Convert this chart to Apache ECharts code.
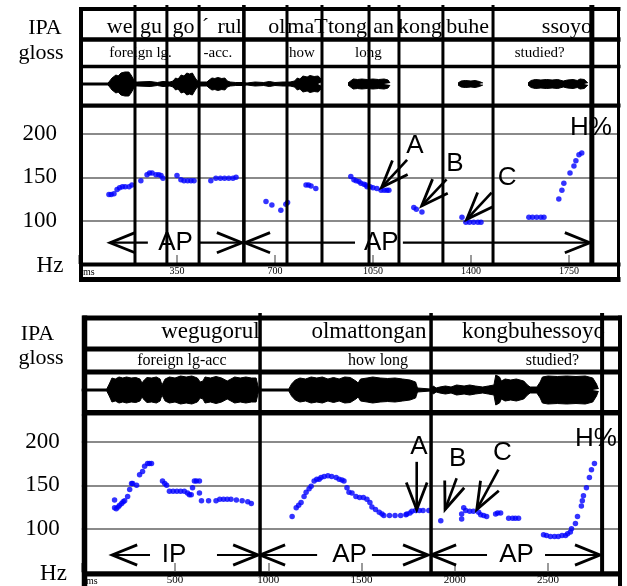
<!DOCTYPE html>
<html><head><meta charset="utf-8">
<script src="https://cdn.jsdelivr.net/npm/echarts@6/dist/echarts.min.js"></script>
<style>html,body{margin:0;padding:0;background:#fff}#c{width:627px;height:586px}</style>
</head><body><div id="c"></div>
<script>
// ================= DATA =================
// Top panel (time in ms, pitch in Hz)
const topXMax = 1929;
const topTickStep = 350;
const topBoundaryMs = [200, 314, 429, 589, 743, 868, 1036, 1143, 1300, 1479, 1832];
const topWords = ['we', 'gu', 'go', '´', 'rul', 'ol', 'maT', 'tong', 'an', 'kong', 'buhe', 'ssoyo'];
const topWordMs = [145, 257, 373, 452, 538, 707, 816, 959, 1088, 1218, 1388, 1743];
const topGloss = ['foreign lg.', '-acc.', 'how', 'long', 'studied?'];
const topGlossMs = [220, 496, 796, 1034, 1646];
const topPitch = [
  [107,130],[115,130],[125,131],[136,136],[145,138],[155,139],[165,139],[179,139],[189,141],[221,146],
  [243,153],[252,155],[261,155],[275,153],[285,153],[293,152],[300,149],[350,152],[364,147],[375,146],
  [388,146],[400,146],[411,146],[471,146],[489,149],[505,149],[520,149],[535,149],[550,149],[561,150],
  [668,122],[689,118],[721,112],[739,119],[745,121],[811,141],[820,141],[829,140],[846,137],
  [971,151],[982,147],[990,146],[1000,145],[1007,143],[1018,142],[1025,141],[1029,139],[1040,139],
  [1050,138],[1064,137],[1079,135],[1090,135],[1100,135],[1107,135],[1196,115],[1205,113],[1225,110],
  [1368,104],[1382,98],[1395,98],[1410,98],[1425,98],[1436,98],
  [1607,104],[1620,104],[1635,104],[1650,104],[1661,104],
  [1714,125],[1725,135],[1732,143],[1754,155],[1768,163],[1775,169],[1786,176],[1796,178]
];
// waveform amplitude envelopes (ms, amplitude), one list per voiced stretch
const topWave = [
  [[0,1],[104,1],[111,3],[118,6],[125,5],[132,9],[140,8],[150,11],[157,10],[164,12],[171,11],[178,12],
   [186,9],[193,7],[200,2],[210,2],[254,2.5],[280,1.5],[300,2.5],[325,2],[336,3],[345,6],[354,5],[365,9],
   [375,8],[385,11],[395,10],[405,11],[413,7],[420,4],[429,2],[457,2],[465,4],[475,6],[485,5.5],[496,6.5],
   [510,5.5],[521,6],[530,3],[540,2],[560,1.5],[586,1.5],[600,1],[629,2],[660,1.5],[680,2.5],[700,1.5],
   [729,2],[754,2],[770,3],[780,6],[789,5],[800,8],[815,7],[825,8.5],[840,7.5],[854,8],[862,6],[868,2]],
  [[961,1],[970,3],[980,5],[995,4.5],[1010,5],[1030,4.5],[1050,5],[1070,4.5],[1090,5],[1104,4],[1111,1]],
  [[1354,1],[1365,3],[1380,3.5],[1400,3],[1415,3.5],[1430,2.5],[1443,1]],
  [[1604,1],[1615,3.5],[1630,4.5],[1650,4],[1670,4.5],[1690,4],[1710,4.5],[1730,3],[1745,4],[1765,4.5],
   [1780,3.5],[1790,5],[1805,4.5],[1818,1]]
];
const topPhraseLabels = ['AP', 'AP'];
const topPhraseStart = [111, 593];
const topPhraseShaftEnd = [246, 986];
const topPhraseLabelMs = [345, 1080];
const topPhraseShaftStart = [432, 1157];
const topPhraseEnd = [582, 1825];
const topAnnoLabels = ['A', 'B', 'C', 'H%'];
const topAnnoAt = [[1200,186],[1343,165],[1529,149],[1829,207]];
const topArrowFrom = [[1172,170],[1313,147.6],[1474,132.2]];
const topArrowTo = [[1081,138.4],[1224,116.9],[1385,101.5]];

// Bottom panel
const botXMax = 2886;
const botTickStep = 500;
const botBoundaryMs = [956, 1873, 2790];
const botWords = ['wegugorul', 'olmattongan', 'kongbuhessoyo'];
const botWordMs = [690, 1540, 2422];
const botGloss = ['foreign lg-acc', 'how long', 'studied?'];
const botGlossMs = [537, 1589, 2524];
const botPitch = [
  [176,133],[176,124],[185,123],[195,125],[203,127],[214,129],[222,131],[230,132],[246,137],[257,145],
  [267,152],[273,152],[294,150],[310,162],[326,166],[337,172],[353,175],[363,175],[374,175],
  [433,155],[445,152],[455,150],[470,143],[490,143],[510,143],[530,143],[550,143],[567,141],[577,139],
  [587,139],[594,147],[604,155],[615,155],[631,155],[631,141],[642,132],[680,132],[720,132],[740,134],
  [760,134],[780,134],[800,134],[829,133],[860,132],[890,131],[909,129],
  [1128,114],[1150,124],[1163,127],[1176,130],[1192,137],[1203,142],[1219,146],[1230,149],[1246,155],
  [1260,157],[1273,157],[1283,159],[1300,160],[1320,161],[1340,160],[1364,159],[1380,157],[1395,156],
  [1406,155],[1422,147],[1433,142],[1449,141],[1470,137],[1490,136],[1510,136],[1529,134],[1545,130],
  [1556,125],[1575,122],[1595,119],[1610,117],[1620,115],[1650,115],[1680,115],[1710,115],[1738,116],
  [1743,117],[1760,118],[1770,120],[1790,121],[1810,121],[1830,121],[1861,121],
  [1925,109],[2037,111],[2037,117],[2048,124],[2059,121],[2080,120],[2100,120],[2128,119],[2139,116],
  [2155,115],[2171,114],[2219,117],[2230,118],[2246,118],[2289,112],[2310,112],[2325,112],[2342,112],
  [2476,93],[2492,92],[2513,91],[2535,91],[2555,91],[2575,92],[2594,92],[2605,94],[2620,96],[2626,100],
  [2647,106],[2658,114],[2679,126],[2684,132],[2690,138],[2706,147],[2722,159],[2733,168],[2749,175]
];
const botWave = [
  [[0,1],[134,1],[145,5],[155,9],[162,12],[180,11],[200,13],[220,12],[240,13],[265,12],[290,12.5],[312,11],
   [323,7],[335,10],[350,12.5],[375,12],[400,13],[420,11],[430,5],[440,7],[447,11],[470,13],[500,12],
   [530,14],[560,13],[590,14],[620,12],[635,8],[650,9],[661,13],[690,12],[720,13.5],[750,12],[780,9],
   [790,11],[820,13],[850,12],[880,13],[910,12],[935,12],[946,3],[960,1],[1110,1],[1125,6],[1145,10],
   [1170,12],[1200,11],[1230,13],[1260,12],[1290,13],[1320,11],[1350,12.5],[1380,11],[1410,13],[1440,12.5],
   [1470,9],[1482,7],[1495,11],[1530,12],[1560,13],[1600,12],[1640,11.5],[1680,12],[1720,11],[1760,10],
   [1790,8],[1800,2],[1870,1],[1885,4],[1900,2],[1920,3],[1950,4],[1980,3],[2010,5],[2050,4],[2080,5],
   [2110,4],[2150,3],[2180,4],[2210,5],[2220,15],[2240,13],[2250,9],[2270,11],[2300,10],[2330,11],
   [2370,9],[2390,5],[2404,3],[2440,3],[2458,8],[2470,13],[2500,14],[2550,13.5],[2600,14],[2650,13.5],
   [2700,14],[2740,12],[2760,6],[2770,1]]
];
const botPhraseLabels = ['IP', 'AP', 'AP'];
const botPhraseStart = [163, 956, 1873];
const botPhraseShaftEnd = [366, 1262, 2173];
const botPhraseLabelMs = [495, 1436, 2331];
const botPhraseShaftStart = [725, 1556, 2484];
const botPhraseEnd = [946, 1857, 2779];
const botAnnoLabels = ['A', 'B', 'C', 'H%'];
const botAnnoAt = [[1808,194],[2015,181],[2256,187],[2757,203]];
const botArrowFrom = [[1796,177],[2010,158],[2234,168]];
const botArrowTo = [[1796,122],[1948,122],[2118,122]];

const hzMin = 50, hzMax = 231, hzStep = 50;
const hzLabels = [100, 150, 200];

// ================= LAYOUT / STYLE =================
const SERIF = '"Liberation Serif", "Times New Roman", serif';
const SANS = '"Liberation Sans", Arial, sans-serif';
const BLUE = '#0000ff';
const GRID_GRAY = '#8a8a8a';

const chart = echarts.init(document.getElementById('c'), null, {renderer: 'canvas'});

function waveData(segs, sign) {
  const out = [];
  segs.forEach(seg => {
    seg.forEach(p => out.push([p[0], sign * p[1]]));
    out.push([seg[seg.length - 1][0] + 1, '-']);
  });
  return out;
}
function pitchAxes(max, step, gridIndex, fontSize, margin) {
  return {
    x: {type: 'value', gridIndex, min: 0, max, interval: step,
        axisLine: {show: false}, splitLine: {show: false},
        axisTick: {show: true, inside: true, length: 9, lineStyle: {color: '#9a9a9a', width: 2}},
        axisLabel: {show: true, margin, color: '#000', fontFamily: SERIF, fontSize,
          formatter: v => (v > 0 && v % step === 0) ? String(v) : ''}},
    y: {type: 'value', gridIndex, min: hzMin, max: hzMax, interval: hzStep,
        axisLine: {show: false}, axisTick: {show: false},
        splitLine: {show: true, lineStyle: {color: GRID_GRAY, width: 2}},
        axisLabel: {show: true, margin: 22, color: '#000', fontFamily: SERIF, fontSize: 23,
          formatter: v => hzLabels.indexOf(v) >= 0 ? String(v) : ''}}
  };
}
function waveAxes(max, gridIndex) {
  return {
    x: {type: 'value', gridIndex, min: 0, max, show: false},
    y: {type: 'value', gridIndex, min: -17, max: 17, show: false}
  };
}
const tp = pitchAxes(topXMax, topTickStep, 0, 10, 2);
const tw = waveAxes(topXMax, 1);
const bp = pitchAxes(botXMax, botTickStep, 2, 11, 3);
const bw = waveAxes(botXMax, 3);

function waveSeries(segs, idx) {
  return [1, -1].map(sign => ({
    type: 'line', xAxisIndex: idx, yAxisIndex: idx, data: waveData(segs, sign),
    symbol: 'none', showSymbol: false, connectNulls: false, silent: true,
    lineStyle: {color: '#000', width: 1}, areaStyle: {color: '#000', opacity: 1}, z: 3
  }));
}

chart.setOption({
  animation: false,
  backgroundColor: '#fff',
  grid: [
    {left: 79, top: 107, width: 540, height: 157},
    {left: 79, top: 67, width: 540, height: 34},
    {left: 81.75, top: 415, width: 538.25, height: 157.5},
    {left: 81.75, top: 373, width: 538.25, height: 34}
  ],
  xAxis: [tp.x, tw.x, bp.x, bw.x],
  yAxis: [tp.y, tw.y, bp.y, bw.y],
  series: [
    {type: 'scatter', xAxisIndex: 0, yAxisIndex: 0, data: topPitch, symbolSize: 5.5,
     itemStyle: {color: BLUE}, silent: true, z: 4},
    ...waveSeries(topWave, 1),
    {type: 'scatter', xAxisIndex: 2, yAxisIndex: 2, data: botPitch, symbolSize: 5.5,
     itemStyle: {color: BLUE}, silent: true, z: 4},
    ...waveSeries(botWave, 3)
  ]
});

// ================= OVERLAY (frames, texts, arrows) =================
const G = [];
function line(x1, y1, x2, y2, w, color) {
  G.push({type: 'line', z: 50, silent: true, shape: {x1, y1, x2, y2},
          style: {stroke: color || '#000', lineWidth: w, lineCap: 'butt'}});
}
function text(t, x, y, font, align) {
  G.push({type: 'text', z: 60, silent: true, x, y,
          style: {text: t, font, fill: '#000', align: align || 'center', verticalAlign: 'middle'}});
}
function poly(points, w) {
  G.push({type: 'polyline', z: 55, silent: true, shape: {points},
          style: {stroke: '#000', lineWidth: w, fill: null, lineJoin: 'miter'}});
}
function head(tip, ang, len, half, w) {
  const b1 = [tip[0] + len * Math.cos(ang + half), tip[1] + len * Math.sin(ang + half)];
  const b2 = [tip[0] + len * Math.cos(ang - half), tip[1] + len * Math.sin(ang - half)];
  poly([b1, tip, b2], w);
}
const X = (gi, ms) => chart.convertToPixel({xAxisIndex: gi}, ms);
const P = (gi, p) => chart.convertToPixel({gridIndex: gi}, p);

function panel(cfg) {
  const gi = cfg.gi;
  cfg.bounds.forEach((ms, i) => line(X(gi, ms), cfg.boundTop, X(gi, ms), cfg.boundBottom, cfg.boundW[i]));
  cfg.hLines.forEach(h => line(cfg.frameL - 2, h[0], cfg.frameR + 2, h[0], h[1]));
  line(cfg.frameL, cfg.frameTop, cfg.frameL, cfg.frameBottom, cfg.leftW);
  line(cfg.frameR, cfg.frameTop, cfg.frameR, cfg.frameBottom, cfg.rightW);
  cfg.words.forEach((w, i) => text(w, X(gi, cfg.wordMs[i]), cfg.wordY, cfg.wordFont));
  cfg.gloss.forEach((w, i) => text(w, X(gi, cfg.glossMs[i]), cfg.glossY, cfg.glossFont));
  text('IPA', cfg.lblX, cfg.ipaY, '22px ' + SERIF);
  text('gloss', cfg.glossLblX, cfg.glossLblY, '22px ' + SERIF);
  text('Hz', cfg.hzX, cfg.hzY, '23px ' + SERIF);
  text('ms', cfg.msX, cfg.msY, cfg.msFont, 'left');
  const y = cfg.phraseY, half = 22 * Math.PI / 180;
  cfg.pLabels.forEach((lab, i) => {
    const a = X(gi, cfg.pStart[i]), b = X(gi, cfg.pShaftEnd[i]);
    const c = X(gi, cfg.pShaftStart[i]), d = X(gi, cfg.pEnd[i]);
    line(a, y, b, y, 2.2); line(c, y, d, y, 2.2);
    head([a, y], 0, 27, half, 2.8);
    head([d, y], Math.PI, 27, half, 2.8);
    text(lab, X(gi, cfg.pLabelMs[i]), y, '26px ' + SANS);
  });
  cfg.aLabels.forEach((lab, i) => {
    const p = P(gi, cfg.aAt[i]);
    text(lab, p[0], p[1], '26px ' + SANS);
  });
  cfg.aFrom.forEach((f, i) => {
    const p1 = P(gi, f), p2 = P(gi, cfg.aTo[i]);
    line(p1[0], p1[1], p2[0], p2[1], 2.6);
    const ang = Math.atan2(p1[1] - p2[1], p1[0] - p2[0]);
    head(p2, ang, 29, 21 * Math.PI / 180, 2.8);
  });
}

panel({
  gi: 0, bounds: topBoundaryMs, boundTop: 5, boundBottom: 264.5,
  boundW: [3, 3, 3, 3.6, 3, 3, 3, 3, 3, 3, 5],
  hLines: [[9, 4], [39.5, 4.5], [66.5, 3.5], [105.5, 4], [264.5, 4], [279.5, 5]],
  frameL: 81, frameR: 618.5, frameTop: 7, frameBottom: 282, leftW: 4, rightW: 3,
  words: topWords, wordMs: topWordMs, wordY: 27, wordFont: '22px ' + SERIF,
  gloss: topGloss, glossMs: topGlossMs, glossY: 53, glossFont: '15px ' + SERIF,
  lblX: 45, ipaY: 28.5, glossLblX: 41, glossLblY: 53.5, hzX: 50, hzY: 266,
  msX: 83, msY: 272, msFont: '10px ' + SERIF,
  phraseY: 242.7, pLabels: topPhraseLabels, pStart: topPhraseStart, pShaftEnd: topPhraseShaftEnd,
  pLabelMs: topPhraseLabelMs, pShaftStart: topPhraseShaftStart, pEnd: topPhraseEnd,
  aLabels: topAnnoLabels, aAt: topAnnoAt, aFrom: topArrowFrom, aTo: topArrowTo
});
panel({
  gi: 2, bounds: botBoundaryMs, boundTop: 313, boundBottom: 574,
  boundW: [3.5, 3.5, 4],
  hLines: [[318, 5], [349, 5], [372, 5], [412.5, 5], [574, 5]],
  frameL: 84.5, frameR: 620, frameTop: 315.5, frameBottom: 586, leftW: 5.5, rightW: 4,
  words: botWords, wordMs: botWordMs, wordY: 332, wordFont: '23px ' + SERIF,
  gloss: botGloss, glossMs: botGlossMs, glossY: 360.5, glossFont: '16px ' + SERIF,
  lblX: 37.5, ipaY: 334, glossLblX: 41, glossLblY: 358.5, hzX: 53.5, hzY: 574,
  msX: 86, msY: 581, msFont: '10px ' + SERIF,
  phraseY: 555, pLabels: botPhraseLabels, pStart: botPhraseStart, pShaftEnd: botPhraseShaftEnd,
  pLabelMs: botPhraseLabelMs, pShaftStart: botPhraseShaftStart, pEnd: botPhraseEnd,
  aLabels: botAnnoLabels, aAt: botAnnoAt, aFrom: botArrowFrom, aTo: botArrowTo
});

chart.setOption({graphic: {elements: G}});
</script></body></html>
